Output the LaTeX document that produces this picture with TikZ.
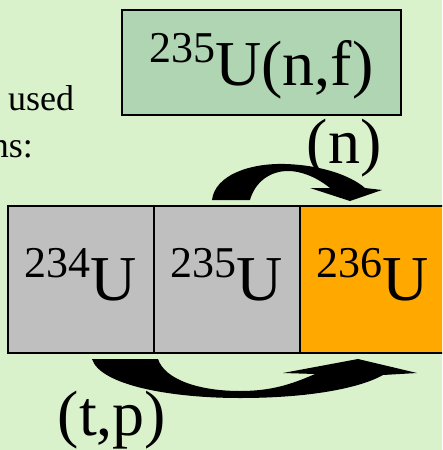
\documentclass[tikz,border=0pt]{standalone}
\usepackage{fontspec}
\setmainfont{Liberation Serif}
\usetikzlibrary{positioning}
\definecolor{mybg}{RGB}{218,242,204}
\definecolor{boxgreen}{RGB}{175,213,178}
\definecolor{cellgray}{RGB}{191,191,191}
\definecolor{cellorange}{RGB}{255,168,0}
\newcommand{\nuc}[2]{\raisebox{23pt}{\rmfamily\fontsize{44}{44}\selectfont #1}#2}
\tikzset{
  cell/.style={rectangle, draw=black, fill=cellgray, line width=1.2pt,
    minimum width=146pt, minimum height=147pt, inner sep=0pt, outer sep=0pt,
    text height=41pt, text depth=0pt, font=\rmfamily\fontsize{64}{70}\selectfont},
  reacbox/.style={rectangle, draw=black, fill=boxgreen, line width=1.2pt,
    minimum width=279pt, minimum height=105pt, inner sep=0pt,
    text height=45pt, text depth=0pt, font=\rmfamily\fontsize{64}{70}\selectfont},
  biglabel/.style={inner sep=0pt, font=\rmfamily\fontsize{64}{70}\selectfont},
  smalltext/.style={inner sep=0pt, font=\rmfamily\fontsize{36}{40}\selectfont},
  blockarrow/.style={fill=black, draw=none}
}
\begin{document}
\begin{tikzpicture}[x=1pt, y=-1pt]
  \clip (0,0) rectangle (442,450);
  \fill[mybg] (0,0) rectangle (442,450);

  % Cut-off slide text
  \node[smalltext, anchor=base west] (used) at (8,110) {used};
  \node[smalltext, anchor=base east] (ns) at (33,157) {ns:};

  % Reaction box
  \node[reacbox] (fission) at (261.5,62.5) {\nuc{235}{U}(n,f)};

  % Chain of isotopes
  \node[cell] (u234) at (81,279.5) {\nuc{234}{U}};
  \node[cell, right=0pt of u234] (u235) {\nuc{235}{U}};
  \node[cell, fill=cellorange, right=0pt of u235] (u236) {\nuc{236}{U}};

  % Reaction labels
  \node[biglabel, anchor=base] (nlabel) at (344,163) {(n)};
  \node[biglabel, anchor=base] (tplabel) at (112,435) {(t,p)};

  % Neutron capture arrow
  \fill[blockarrow] (212,200) .. controls (215,175) and (250,163) .. (285,164)
    .. controls (320,165) and (350,175) .. (365,188)
    -- (382,190) -- (350,201) -- (310,188) -- (330,188)
    .. controls (315,176) and (300,171) .. (288,171)
    .. controls (270,171) and (255,182) .. (250,200) -- cycle;

  % Two-neutron transfer arrow
  \fill[blockarrow] (92,359) .. controls (100,385) and (170,398) .. (240,398)
    .. controls (310,398) and (360,388) .. (383,375)
    -- (417,373) -- (358,359) -- (283,373) -- (315,374)
    .. controls (290,385) and (270,391) .. (240,391)
    .. controls (200,391) and (165,380) .. (158,359) -- cycle;
\end{tikzpicture}
\end{document}
